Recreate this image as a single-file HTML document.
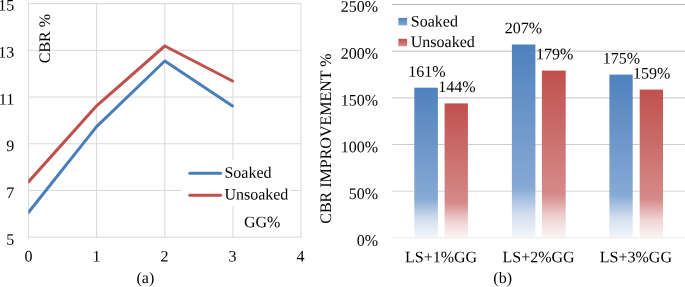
<!DOCTYPE html>
<html><head><meta charset="utf-8">
<style>
html,body{margin:0;padding:0;background:#fff;width:685px;height:287px;overflow:hidden}
svg{display:block;will-change:transform}
text{font-family:"Liberation Serif",serif;font-size:16px;fill:#000;text-rendering:geometricPrecision}
</style></head><body>
<svg width="685" height="287" viewBox="0 0 685 287">
<defs>
<linearGradient id="gb" x1="0" y1="0" x2="0" y2="1">
<stop offset="0" stop-color="#4f81bd"/>
<stop offset="0.74" stop-color="#86a9d5"/>
<stop offset="0.88" stop-color="#d3dfef"/>
<stop offset="1" stop-color="#f3f6fb"/>
</linearGradient>
<linearGradient id="gr" x1="0" y1="0" x2="0" y2="1">
<stop offset="0" stop-color="#c0504d"/>
<stop offset="0.74" stop-color="#d58a89"/>
<stop offset="0.88" stop-color="#f0d3d3"/>
<stop offset="1" stop-color="#fbf4f4"/>
</linearGradient>
<linearGradient id="lb" x1="0" y1="0" x2="0" y2="1">
<stop offset="0" stop-color="#4f81bd"/>
<stop offset="1" stop-color="#86a9d5"/>
</linearGradient>
<linearGradient id="lr" x1="0" y1="0" x2="0" y2="1">
<stop offset="0" stop-color="#c0504d"/>
<stop offset="1" stop-color="#d88a8a"/>
</linearGradient>
</defs>
<rect width="685" height="287" fill="#fff"/>

<!-- LEFT CHART gridlines -->
<g stroke="#d9d9d9" stroke-width="1" fill="none">
<line x1="28" y1="3.7" x2="301" y2="3.7"/>
<line x1="28" y1="50.36" x2="301" y2="50.36"/>
<line x1="28" y1="97.07" x2="301" y2="97.07"/>
<line x1="28" y1="143.78" x2="301" y2="143.78"/>
<line x1="28" y1="190.5" x2="301" y2="190.5"/>
<line x1="28" y1="237.2" x2="301" y2="237.2"/>
</g>
<g stroke="#d9d9d9" stroke-width="1" fill="none">
<line x1="28.45" y1="3.2" x2="28.45" y2="237.7"/>
<line x1="96.6" y1="3.2" x2="96.6" y2="237.7"/>
<line x1="164.8" y1="3.2" x2="164.8" y2="237.7"/>
<line x1="232.9" y1="3.2" x2="232.9" y2="237.7"/>
<line x1="300.9" y1="3.2" x2="300.9" y2="237.7"/>
</g>
<!-- left data lines -->
<clipPath id="cl"><rect x="28.3" y="0" width="280" height="240"/></clipPath>
<g fill="none" stroke-width="3" stroke-linejoin="round" stroke-linecap="round" clip-path="url(#cl)">
<polyline stroke="#c0504d" points="28.4,181.9 96.6,105.8 164.8,46.0 232.5,81.0"/>
<polyline stroke="#4a7ebb" points="28.4,212.5 96.6,126.6 164.8,61.0 232.5,106.0"/>
</g>
<!-- left legend -->
<rect x="181" y="160" width="110" height="46" fill="#fff"/>
<rect x="238" y="206" width="52" height="30" fill="#fff"/>
<line x1="189.8" y1="173.2" x2="220.6" y2="173.2" stroke="#4a7ebb" stroke-width="3" stroke-linecap="round"/>
<line x1="189.8" y1="195.3" x2="220.6" y2="195.3" stroke="#c0504d" stroke-width="3" stroke-linecap="round"/>
<text x="224.4" y="177.7" transform="rotate(0.05 224.4 177.7)">Soaked</text>
<text x="224.4" y="199.4" transform="rotate(0.05 224.4 199.4)">Unsoaked</text>
<text x="244" y="227.2" transform="rotate(0.05 244 227.2)">GG%</text>

<!-- left axis labels -->
<g text-anchor="end">
<text x="14.2" y="10.6" transform="rotate(0.05 14.2 10.6)">15</text>
<text x="14.2" y="57.5" transform="rotate(0.05 14.2 57.5)">13</text>
<text x="14.2" y="104.5" transform="rotate(0.05 14.2 104.5)">11</text>
<text x="14.2" y="151.0" transform="rotate(0.05 14.2 151.0)">9</text>
<text x="14.2" y="197.9" transform="rotate(0.05 14.2 197.9)">7</text>
<text x="14.2" y="244.7" transform="rotate(0.05 14.2 244.7)">5</text>
</g>
<g text-anchor="middle">
<text x="28.4" y="261.6" transform="rotate(0.05 28.4 261.6)">0</text>
<text x="96.4" y="261.6" transform="rotate(0.05 96.4 261.6)">1</text>
<text x="164.5" y="261.6" transform="rotate(0.05 164.5 261.6)">2</text>
<text x="232.4" y="261.6" transform="rotate(0.05 232.4 261.6)">3</text>
<text x="300.4" y="261.6" transform="rotate(0.05 300.4 261.6)">4</text>
<text x="145.4" y="283.1" transform="rotate(0.05 145.4 283.1)">(a)</text>
</g>
<text transform="translate(50,38.6) rotate(-90)" text-anchor="middle">CBR %</text>

<!-- RIGHT CHART gridlines -->
<g stroke-width="1">
<line x1="392" y1="4.5" x2="685" y2="4.5" stroke="#b8b8b8"/>
<line x1="392" y1="51.18" x2="685" y2="51.18" stroke="#c4c4c4"/>
<line x1="392" y1="97.86" x2="685" y2="97.86" stroke="#c8c8c8"/>
<line x1="392" y1="144.54" x2="685" y2="144.54" stroke="#d0d0d0"/>
<line x1="392" y1="191.22" x2="685" y2="191.22" stroke="#dcdcdc"/>
</g>
<!-- bars -->
<g>
<rect x="414.3" y="87.7" width="23.6" height="149.7" fill="url(#gb)"/>
<rect x="444.6" y="103.4" width="23.3" height="134" fill="url(#gr)"/>
<rect x="511.9" y="44.5" width="23.5" height="192.9" fill="url(#gb)"/>
<rect x="541.9" y="70.6" width="23.8" height="166.8" fill="url(#gr)"/>
<rect x="609.4" y="74.6" width="23.3" height="162.8" fill="url(#gb)"/>
<rect x="639.7" y="89.6" width="23.3" height="147.8" fill="url(#gr)"/>
</g>
<g stroke="#888" stroke-opacity="0.05" stroke-width="1">
<line x1="392" y1="51.18" x2="685" y2="51.18"/>
<line x1="392" y1="97.86" x2="685" y2="97.86"/>
<line x1="392" y1="144.54" x2="685" y2="144.54"/>
<line x1="392" y1="191.22" x2="685" y2="191.22"/>
</g>
<line x1="392" y1="237.9" x2="685" y2="237.9" stroke="#ebebeb" stroke-width="1"/>
<!-- bar labels -->
<g text-anchor="middle">
<text x="426.8" y="76.7" transform="rotate(0.05 426.8 76.7)">161%</text>
<text x="456.8" y="92.1" transform="rotate(0.05 456.8 92.1)">144%</text>
<text x="523.4" y="33.3" transform="rotate(0.05 523.4 33.3)">207%</text>
<text x="554.7" y="59.2" transform="rotate(0.05 554.7 59.2)">179%</text>
<text x="621.5" y="63.6" transform="rotate(0.05 621.5 63.6)">175%</text>
<text x="651.7" y="78.6" transform="rotate(0.05 651.7 78.6)">159%</text>
</g>
<!-- right legend -->
<rect x="398.4" y="17.9" width="8.7" height="7.5" fill="url(#lb)"/>
<rect x="398.4" y="38.8" width="8.7" height="7.4" fill="url(#lr)"/>
<text x="410.8" y="26.5" transform="rotate(0.05 410.8 26.5)">Soaked</text>
<text x="410.8" y="46.9" transform="rotate(0.05 410.8 46.9)">Unsoaked</text>

<!-- right axis labels -->
<g text-anchor="end">
<text x="378.0" y="11.8" transform="rotate(0.05 378.0 11.8)">250%</text>
<text x="378.0" y="58.8" transform="rotate(0.05 378.0 58.8)">200%</text>
<text x="378.0" y="105.6" transform="rotate(0.05 378.0 105.6)">150%</text>
<text x="378.0" y="152.2" transform="rotate(0.05 378.0 152.2)">100%</text>
<text x="378.0" y="199" transform="rotate(0.05 378.0 199)">50%</text>
<text x="378.0" y="245.8" transform="rotate(0.05 378.0 245.8)">0%</text>
</g>
<g text-anchor="middle">
<text x="441.1" y="262.2" transform="rotate(0.05 441.1 262.2)">LS+1%GG</text>
<text x="538.6" y="262.2" transform="rotate(0.05 538.6 262.2)">LS+2%GG</text>
<text x="635.9" y="262.2" transform="rotate(0.05 635.9 262.2)">LS+3%GG</text>
<text x="502.7" y="283.1" transform="rotate(0.05 502.7 283.1)">(b)</text>
</g>
<text transform="translate(331.2,138.6) rotate(-90)" text-anchor="middle">CBR IMPROVEMENT %</text>
</svg>
</body></html>
